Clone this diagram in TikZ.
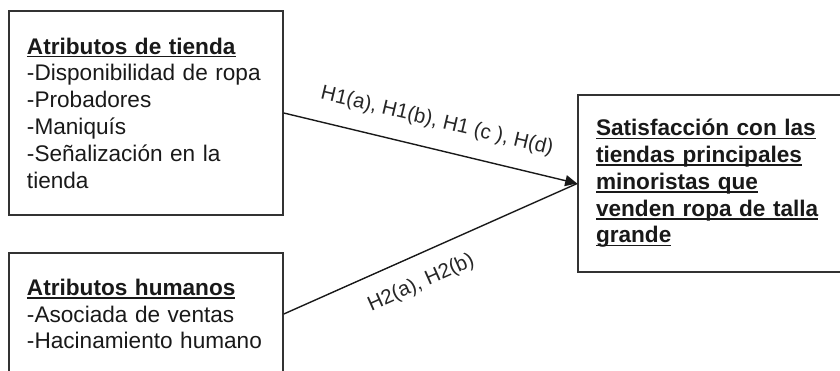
\documentclass[tikz,border=0pt]{standalone}
\usepackage{fontspec}
\setmainfont{Liberation Sans}
\usetikzlibrary{arrows.meta}

% bold text with a fixed-depth underline
\newsavebox{\cajatxt}
\newcommand{\titulo}[1]{\sbox{\cajatxt}{\textbf{#1}}\usebox{\cajatxt}\llap{\rule[-3.4pt]{\wd\cajatxt}{1.6pt}}}

\tikzset{
	caja/.style={shape=rectangle,draw=black!80,line width=1.6pt,align=left,
		inner xsep=18pt,text=black!90,font=\fontsize{22.6}{26.8}\selectfont},
	enlace/.style={line width=1.4pt,draw=black!90},
	etiqueta/.style={sloped,text=black!85,font=\fontsize{20.5}{24}\selectfont}
}

\begin{document}
\begin{tikzpicture}[x=1pt,y=-1pt]
	\clip (0,0) rectangle (840,370);

	\node[caja,minimum width=274pt,minimum height=204pt,text width=238pt] (tienda) at (146,113)
		{\titulo{Atributos de tienda}\\-Disponibilidad de ropa\\-Probadores\\-Maniquís\\-Señalización en la\\tienda};
	\node[caja,minimum width=274pt,minimum height=122pt,text width=238pt] (humano) at (146,314)
		{\titulo{Atributos humanos}\\-Asociada de ventas\\-Hacinamiento humano};
	\node[caja,minimum width=286pt,minimum height=177pt,text width=250pt] (satisf) at (721,183.5)
		{\titulo{Satisfacción con las}\\\titulo{tiendas principales}\\\titulo{minoristas que}\\\titulo{venden ropa de talla}\\\titulo{grande}};

	\draw[enlace,-{Triangle[length=12pt,width=11pt]}] (tienda.east) -- node[etiqueta,pos=0.50,above=14pt]{H1(a), H1(b), H1 (c ), H(d)} (satisf.west);
	\draw[enlace] (humano.east) -- node[etiqueta,pos=0.43,below=14pt]{H2(a), H2(b)} (satisf.west);
\end{tikzpicture}
\end{document}
